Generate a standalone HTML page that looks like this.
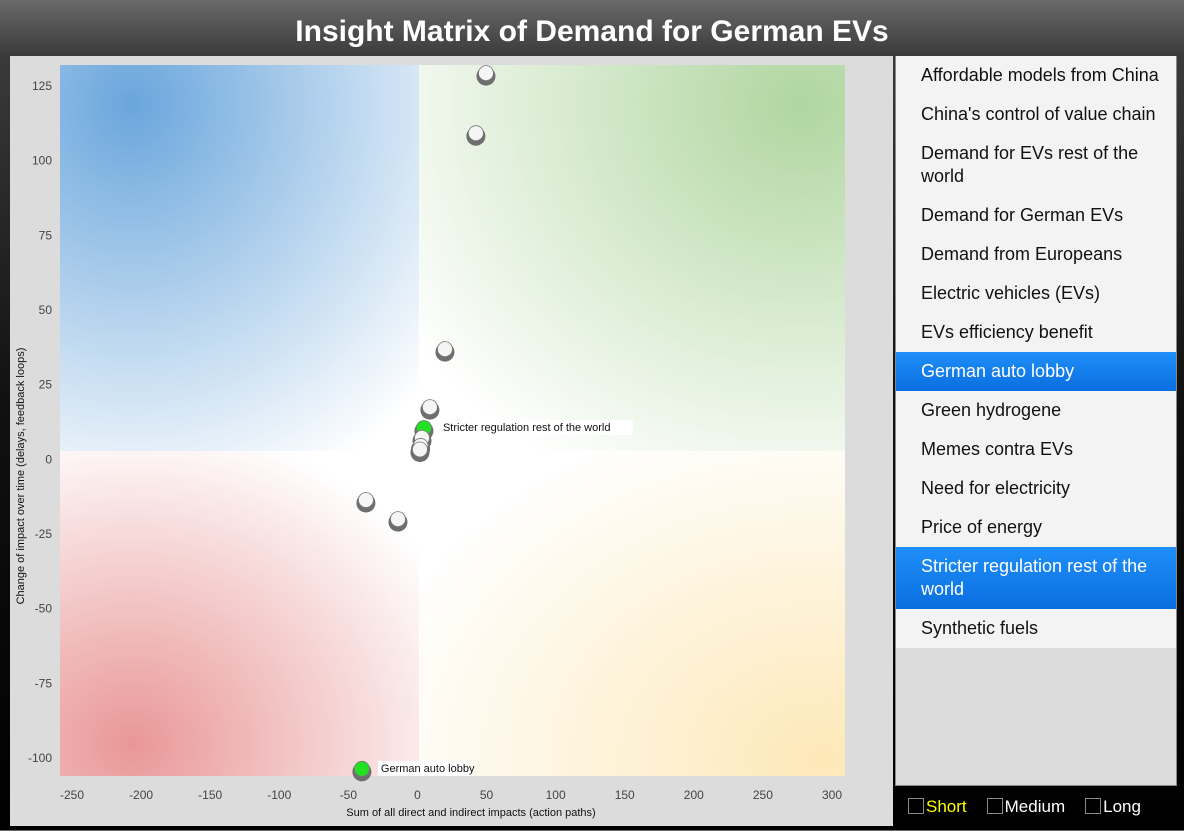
<!DOCTYPE html>
<html><head><meta charset="utf-8"><style>
body{margin:0;width:1184px;height:830px;overflow:hidden;background:linear-gradient(#6a6a6a 0,#3a3a3a 56px,#111 400px,#000 830px);font-family:"Liberation Sans",sans-serif}
#title{position:absolute;left:0;top:0;width:1184px;height:56px;text-align:center;line-height:64px;color:#fff;font-weight:bold;font-size:30px}
#chart{position:absolute;left:10px;top:56px;width:883px;height:770px;background:#dcdcdc}
#list{position:absolute;left:895px;top:56px;width:280px;height:729px;background:#dcdcdc;border:1px solid #888;border-top:none}
.it{background:#f3f3f3;color:#111;font-size:18px;padding:8px 10px 8px 25px;line-height:23px}
.sel{background:linear-gradient(#1f8ff8,#0a6ee0);color:#fff}
#opts{position:absolute;left:908px;top:797px;color:#fff;font-size:17px}
#opts span{margin-right:20px}
.cb{display:inline-block;width:14px;height:14px;border:1px solid #888;vertical-align:-2px;margin-right:2px}
</style></head><body>
<div id="title">Insight Matrix of Demand for German EVs</div>
<div id="chart">
<svg id="svg" width="883" height="770" xmlns="http://www.w3.org/2000/svg">
<defs>
<radialGradient id="gb" cx="0.2" cy="0.1" r="1.1"><stop offset="0" stop-color="#6aa6dc"/><stop offset="1" stop-color="#fff"/></radialGradient>
<radialGradient id="gg" cx="0.9" cy="0.1" r="1.1"><stop offset="0" stop-color="#b0d6a0"/><stop offset="1" stop-color="#fff"/></radialGradient>
<radialGradient id="gr" cx="0.2" cy="0.9" r="1.0"><stop offset="0" stop-color="#e99797"/><stop offset="1" stop-color="#fff"/></radialGradient>
<radialGradient id="gy" cx="0.95" cy="0.95" r="1.1"><stop offset="0" stop-color="#fde8b8"/><stop offset="1" stop-color="#fff"/></radialGradient>
</defs>
<g id="quads"></g><g id="axes"></g><g id="pts"></g>
</svg></div>
<div id="list"></div>
<div id="opts"><span style="color:#ff0"><i class="cb"></i>Short</span><span><i class="cb"></i>Medium</span><span><i class="cb"></i>Long</span></div>
<script>
const xTicks=[-250,-200,-150,-100,-50,0,50,100,150,200,250,300];
const yTicks=[125,100,75,50,25,0,-25,-50,-75,-100];
const ptX=[49.6,42.3,19.9,9,4.7,3.3,2.3,1.8,-37.3,-14.1,-40.2];
const ptY=[129.3,109.2,36.9,17.5,10.5,7.2,4.5,3.3,-13.6,-20,-103.6];
const ptSel=[0,0,0,0,1,0,0,0,0,0,1];
const ptLabel=["","","","","Stricter regulation rest of the world","","","","","","German auto lobby"];
const items=["Affordable models from China","China's control of value chain","Demand for EVs rest of the world","Demand for German EVs","Demand from Europeans","Electric vehicles (EVs)","EVs efficiency benefit","German auto lobby","Green hydrogene","Memes contra EVs","Need for electricity","Price of energy","Stricter regulation rest of the world","Synthetic fuels"];
const selItems=["German auto lobby","Stricter regulation rest of the world"];
const OX=10,OY=56;
const sx=v=>72-OX+(v+250)*1.3818;
const sy=v=>86-OY+(125-v)*2.987;
const NS="http://www.w3.org/2000/svg";
function mk(t,a,p){const e=document.createElementNS(NS,t);for(const k in a)e.setAttribute(k,a[k]);p.appendChild(e);return e;}
const L=50,T=9,R=835,B=720,MX=409,MY=395;
const q=document.getElementById('quads');
[[L,T,MX-L,MY-T,'gb','quadrant-top-left'],[MX,T,R-MX,MY-T,'gg','quadrant-top-right'],[L,MY,MX-L,B-MY,'gr','quadrant-bottom-left'],[MX,MY,R-MX,B-MY,'gy','quadrant-bottom-right']].forEach(d=>{
const r=mk('rect',{x:d[0],y:d[1],width:d[2],height:d[3],fill:'url(#'+d[4]+')'},q);

});
const ax=document.getElementById('axes');
xTicks.forEach(v=>{const t=mk('text',{x:sx(v),y:743,'text-anchor':'middle','font-size':12,fill:'#444'},ax);t.textContent=v;

});
yTicks.forEach(v=>{const t=mk('text',{x:42,y:sy(v)+4,'text-anchor':'end','font-size':12,fill:'#444'},ax);t.textContent=v;

});
let t=mk('text',{x:461,y:760,'text-anchor':'middle','font-size':11,fill:'#111'},ax);t.textContent='Sum of all direct and indirect impacts (action paths)';


t=mk('text',{x:0,y:0,'text-anchor':'middle','font-size':11,fill:'#111',transform:'translate(14,420) rotate(-90)'},ax);t.textContent='Change of impact over time (delays, feedback loops)';


const pg=document.getElementById('pts');
ptX.forEach((v,i)=>{const cx=sx(v),cy=sy(ptY[i]);
const g=mk('g',{},pg);


mk('circle',{cx:cx,cy:cy+3,r:9.5,fill:'#6e6e6e'},g);
mk('circle',{cx:cx,cy:cy,r:7.5,fill:ptSel[i]?'#22e022':'#f5f5f5',stroke:'#777','stroke-width':0.8},g);
if(ptLabel[i]){const w=ptLabel[i].length*5.05+6;
mk('rect',{x:cx+16,y:cy-8,width:w,height:15,fill:'#fff'},g);
const tx=mk('text',{x:cx+19,y:cy+3,'font-size':11,fill:'#111'},g);tx.textContent=ptLabel[i];

}
});
const list=document.getElementById('list');
items.forEach(s=>{const d=document.createElement('div');d.className='it'+(selItems.includes(s)?' sel':'');d.textContent=s;


list.appendChild(d);});
</script>
</body></html>
